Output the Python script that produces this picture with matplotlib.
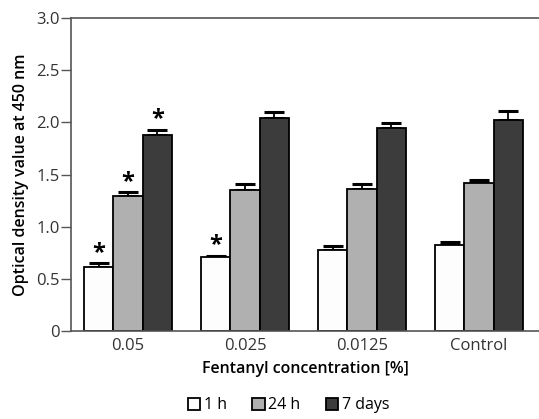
import matplotlib
matplotlib.use("Agg")
import matplotlib.pyplot as plt
import numpy as np

plt.rcParams['font.family'] = ['Open Sans', 'DejaVu Sans']

categories = ["0.05", "0.025", "0.0125", "Control"]
series_names = ["1 h", "24 h", "7 days"]
values_1h = [0.61, 0.71, 0.78, 0.82]
values_24h = [1.29, 1.35, 1.36, 1.42]
values_7d = [1.88, 2.04, 1.95, 2.02]
err_1h = [0.04, 0.01, 0.03, 0.03]
err_24h = [0.04, 0.06, 0.05, 0.03]
err_7d = [0.05, 0.06, 0.04, 0.09]
stars_1h = [True, True, False, False]
stars_24h = [True, False, False, False]
stars_7d = [True, False, False, False]
yticks = [0, 0.5, 1.0, 1.5, 2.0, 2.5, 3.0]
yticklabels = ["0", "0.5", "1.0", "1.5", "2.0", "2.5", "3.0"]

colors = ["#fdfdfd", "#b0b0b0", "#3c3c3c"]
fig = plt.figure(figsize=(5.39, 4.19), dpi=100)
ax = fig.add_axes([71/539, 88/419, 1 - 71/539, 313/419])

x = np.arange(len(categories))
w = 0.25
all_vals = [values_1h, values_24h, values_7d]
all_err = [err_1h, err_24h, err_7d]
all_stars = [stars_1h, stars_24h, stars_7d]
for i, (vals, errs, st) in enumerate(zip(all_vals, all_err, all_stars)):
    pos = x + (i - 1) * w
    ax.bar(pos, vals, width=w, color=colors[i], edgecolor="black", linewidth=1.3,
           label=series_names[i], zorder=2)
    ax.errorbar(pos, vals, yerr=[np.zeros(len(vals)), errs], fmt="none",
                ecolor="black", elinewidth=1.3, capsize=7, capthick=2.2, zorder=1)
    for p, v, e, s in zip(pos, vals, errs, st):
        if s:
            ax.text(p, v + e + 0.1, "*", ha="center", va="center", fontsize=17,
                    fontweight="bold", color="black")

ax.set_xlim(-0.487, 3.513)
ax.set_ylim(0, 3.0)
ax.set_yticks(yticks)
ax.set_yticklabels(yticklabels)
ax.set_xticks(x)
ax.set_xticklabels(categories)
ax.tick_params(axis="x", length=0, pad=5, labelsize=12, labelcolor="#333333")
ax.tick_params(axis="y", length=7, width=1, color="#555555", pad=1, labelsize=12,
               labelcolor="#333333")
for s in ["left", "top", "bottom"]:
    ax.spines[s].set_color("#555555")
    ax.spines[s].set_linewidth(1.2)
ax.spines["right"].set_visible(False)
ax.set_ylabel("Optical density value at 450 nm", fontsize=11.5, fontweight="semibold",
              labelpad=5)
ax.set_xlabel("Fentanyl concentration [%]", fontsize=11.5, fontweight="semibold",
              labelpad=5)

handles, labels = ax.get_legend_handles_labels()
fig.legend(handles, labels, loc="center", bbox_to_anchor=(0.535, 0.033), ncol=3,
           frameon=False, fontsize=11.5, handlelength=0.8, handleheight=0.8,
           handletextpad=0.2, columnspacing=1.6, borderaxespad=0)

fig.savefig("out.png", dpi=100)
